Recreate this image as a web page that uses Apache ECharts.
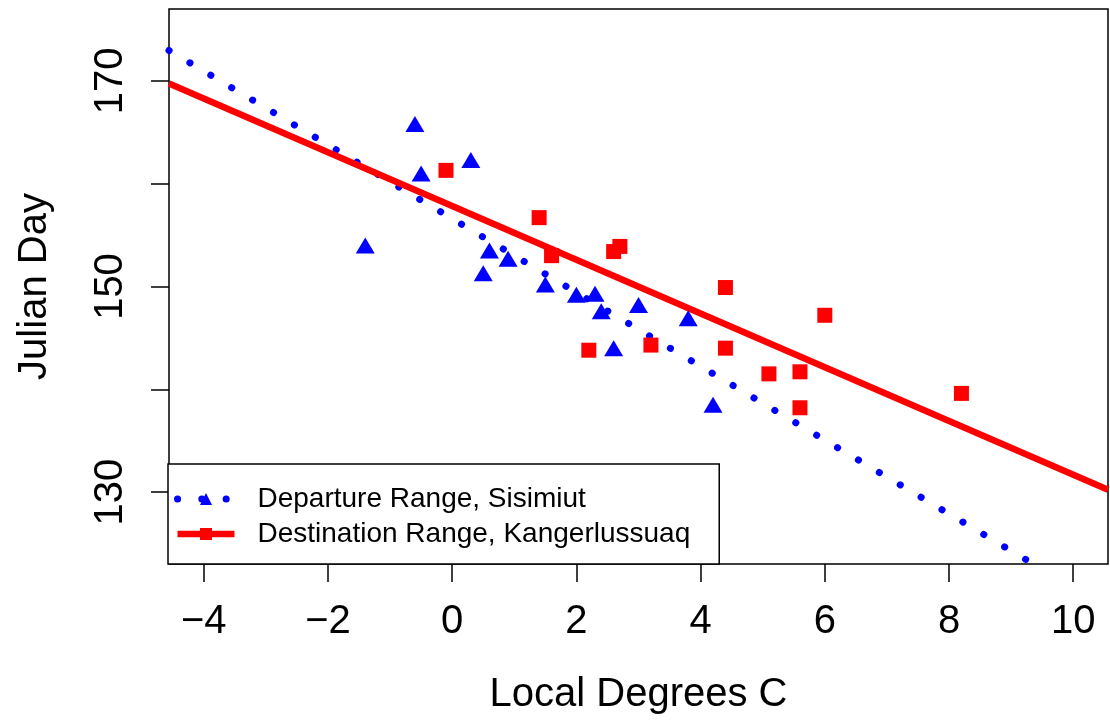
<!DOCTYPE html>
<html>
<head>
<meta charset="utf-8">
<script src="https://cdn.jsdelivr.net/npm/echarts@6/dist/echarts.min.js"></script>
<style>
  html, body { margin: 0; padding: 0; background: #fff; }
  #chart { width: 1110px; height: 723px; }
</style>
</head>
<body>
<div id="chart"></div>
<script>
// Departure range (Sisimiut): local temperature (°C) vs Julian day
const departureTemp = [-1.4, -0.6, -0.5, 0.3, 0.5, 0.6, 0.9, 1.5, 2.0, 2.3, 2.4, 2.6, 3.0, 3.8, 4.2];
const departureDay  = [154.0, 165.8, 161.0, 162.3, 151.3, 153.5, 152.7, 150.2, 149.2, 149.3, 147.6, 144.0, 148.2, 146.9, 138.5];

// Destination range (Kangerlussuaq)
const destinationTemp = [-0.1, 1.4, 1.6, 2.2, 2.6, 2.7, 3.2, 4.4, 4.4, 5.1, 5.6, 5.6, 6.0, 8.2];
const destinationDay  = [161.3, 156.7, 153.0, 143.8, 153.4, 153.9, 144.3, 149.9, 144.0, 141.5, 141.7, 138.2, 147.2, 139.6];

// Trend lines: [intercept, slope]
const departureFit   = [156.6, -3.59];
const destinationFit = [157.83, -2.615];

const seriesNames = ['Departure Range, Sisimiut', 'Destination Range, Kangerlussuaq'];

// Axis extents and ticks
const xRange  = [-4.56, 10.56];
const yRange  = [123, 177];
const xTicks  = [-4, -2, 0, 2, 4, 6, 8, 10];
const yTicks  = [130, 140, 150, 160, 170];
const yLabels = [130, 150, 170];

const FONT = '"Liberation Sans", Arial, Helvetica, sans-serif';
const BLUE = '#0000ff';
const RED = '#ff0000';

const dottedStyle = { color: BLUE, width: 7, type: [0.1, 24.2], cap: 'round' };
const solidStyle  = { color: RED, width: 6.5, type: 'solid' };

const zip = (xs, ys) => xs.map((x, i) => [x, ys[i]]);
const fitLine = fit => xRange.map(x => [x, fit[0] + fit[1] * x]);
const minusFmt = v => (v < 0 ? '\u2212' + Math.abs(v) : String(v));

const chart = echarts.init(document.getElementById('chart'), null, { renderer: 'canvas' });

chart.setOption({
  animation: false,
  backgroundColor: '#fff',
  textStyle: { fontFamily: FONT },
  grid: {
    left: 169, right: 2, top: 9, bottom: 159,
    show: true, borderColor: '#000', borderWidth: 1.5, backgroundColor: 'transparent'
  },
  xAxis: {
    type: 'value',
    min: xRange[0], max: xRange[1],
    axisLine: { show: false, onZero: false },
    splitLine: { show: false },
    axisTick: { show: true, customValues: xTicks, length: 18, lineStyle: { color: '#000', width: 1.5 } },
    axisLabel: { customValues: xTicks, formatter: minusFmt, fontSize: 40, color: '#000', margin: 38, fontFamily: FONT },
    name: 'Local Degrees C',
    nameLocation: 'middle',
    nameGap: 111,
    nameTextStyle: { fontSize: 40, color: '#000', fontFamily: FONT }
  },
  yAxis: {
    type: 'value',
    min: yRange[0], max: yRange[1],
    axisLine: { show: false, onZero: false },
    splitLine: { show: false },
    axisTick: { show: true, customValues: yTicks, length: 18, lineStyle: { color: '#000', width: 1.5 } },
    axisLabel: { customValues: yLabels, rotate: 90, fontSize: 40, color: '#000', margin: 38, fontFamily: FONT },
    name: 'Julian Day',
    nameLocation: 'middle',
    nameRotate: 90,
    nameGap: 114,
    nameTextStyle: { fontSize: 40, color: '#000', fontFamily: FONT }
  },
  legend: {
    data: [
      { name: seriesNames[0], lineStyle: dottedStyle },
      { name: seriesNames[1], lineStyle: solidStyle }
    ],
    orient: 'vertical',
    left: 168, top: 464,
    itemWidth: 57, itemHeight: 15, itemGap: 5,
    padding: [20, 29, 15, 6],
    borderColor: '#000', borderWidth: 1.5, borderRadius: 0,
    backgroundColor: '#fff',
    selectedMode: false,
    textStyle: { fontSize: 28, color: '#000', fontFamily: FONT, lineHeight: 30, padding: [0, 0, 0, 18] }
  },
  series: [
    {
      name: seriesNames[0],
      type: 'line',
      data: fitLine(departureFit),
      symbol: 'triangle',
      showSymbol: false,
      itemStyle: { color: BLUE },
      lineStyle: dottedStyle,
      clip: true,
      silent: true,
      z: 2
    },
    {
      name: seriesNames[1],
      type: 'line',
      data: fitLine(destinationFit),
      symbol: 'rect',
      showSymbol: false,
      itemStyle: { color: RED },
      lineStyle: solidStyle,
      clip: true,
      silent: true,
      z: 2
    },
    {
      name: seriesNames[0],
      type: 'scatter',
      data: zip(departureTemp, departureDay),
      symbol: 'triangle',
      symbolSize: [19, 16],
      itemStyle: { color: BLUE, opacity: 1 },
      z: 3
    },
    {
      name: seriesNames[1],
      type: 'scatter',
      data: zip(destinationTemp, destinationDay),
      symbol: 'rect',
      symbolSize: 15,
      itemStyle: { color: RED, opacity: 1 },
      z: 3
    }
  ]
});
</script>
</body>
</html>
